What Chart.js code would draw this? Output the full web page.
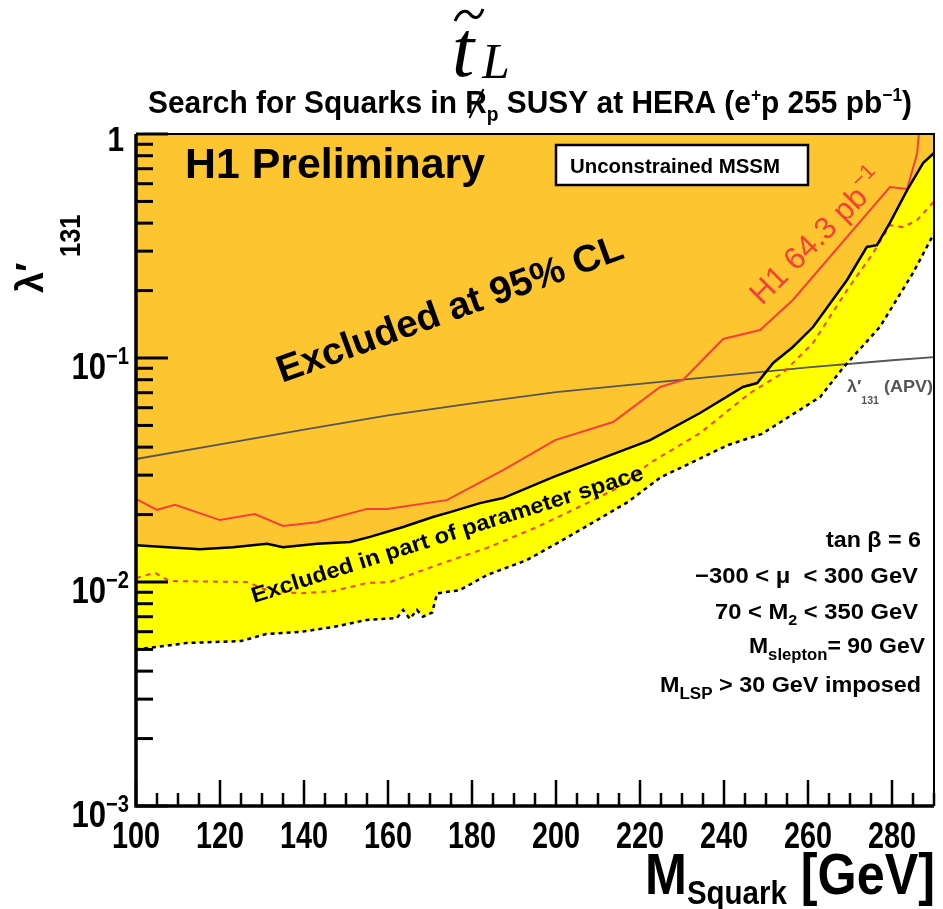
<!DOCTYPE html>
<html>
<head>
<meta charset="utf-8">
<script src="https://cdn.jsdelivr.net/npm/chart.js@4.4.0/dist/chart.umd.min.js"></script>
<style>
  html, body { margin: 0; padding: 0; background: #fff; }
  canvas { display: block; }
</style>
</head>
<body>
<canvas id="chart" width="943" height="909"></canvas>
<script>
// 95% CL limit (solid black), upper edge of the yellow band
const solidMass  = [100, 115.2, 123.1, 131.2, 135, 143.1, 151, 155.7, 163.6, 170.7, 174.8, 181.9, 187.4, 199.3, 211.2, 222.4, 234.3, 244.5, 247.9, 251.7, 256.4, 261.2, 269.3, 274, 276.4, 279.5, 283.6, 287.4, 290];
const solidLimit = [0.0146, 0.0140, 0.0143, 0.0148, 0.0143, 0.0148, 0.0151, 0.0159, 0.0176, 0.0195, 0.0205, 0.0225, 0.0237, 0.0294, 0.0358, 0.0430, 0.0568, 0.0742, 0.0773, 0.0950, 0.112, 0.1375, 0.223, 0.313, 0.319, 0.401, 0.562, 0.742, 0.823];

// lower edge of the "excluded in part of parameter space" band (dotted black)
const dottedMass  = [100, 112, 125, 131, 139, 147, 155, 162.1, 163.6, 165.2, 166.9, 168.3, 170.5, 171.7, 177.1, 183.6, 193.1, 201.2, 209, 217.1, 225, 233.1, 241, 249, 262.9, 268.3, 277.1, 285, 290];
const dottedLimit = [0.0050, 0.00534, 0.00545, 0.00586, 0.00598, 0.0063, 0.00677, 0.0069, 0.0075, 0.00685, 0.0075, 0.0070, 0.0073, 0.0089, 0.0092, 0.01075, 0.01254, 0.01525, 0.01853, 0.02276, 0.0294, 0.0347, 0.0409, 0.0458, 0.067, 0.0902, 0.1375, 0.2396, 0.36];

// earlier H1 result, 64.3 pb^-1 (solid red)
const h1Mass  = [100, 105, 109.3, 120, 128.3, 135, 143, 155, 159.8, 174, 187.4, 199.8, 213.6, 224.8, 230.2, 239.8, 248.6, 256.4, 279.5, 283.6, 286, 286.4];
const h1Limit = [0.0235, 0.0210, 0.0221, 0.0189, 0.0201, 0.0178, 0.0185, 0.0212, 0.0212, 0.0232, 0.0316, 0.0430, 0.0518, 0.0742, 0.0797, 0.1216, 0.1334, 0.1815, 0.580, 0.568, 0.823, 1.0];

// dashed red curve
const dashMass  = [100, 104.5, 107.9, 126.4, 131.2, 139, 146.9, 155, 160.5, 171.7, 183.6, 195.5, 207.4, 215.2, 222.4, 234.3, 246.2, 254, 261.2, 269.3, 275.5, 279.5, 282.6, 286, 290];
const dashLimit = [0.0104, 0.0110, 0.0101, 0.0100, 0.0092, 0.0089, 0.0091, 0.0099, 0.0100, 0.0119, 0.0142, 0.0176, 0.0225, 0.0266, 0.0340, 0.0462, 0.0698, 0.0857, 0.1167, 0.201, 0.294, 0.392, 0.384, 0.413, 0.50];

// atomic parity violation bound (grey)
const apvMass  = [100, 120, 140, 160, 180, 200, 220, 240, 260, 280, 290];
const apvLimit = [0.0354, 0.0412, 0.0479, 0.0554, 0.0627, 0.0704, 0.0766, 0.0835, 0.0909, 0.0977, 0.101];

// axes
const xTickValues = [100, 120, 140, 160, 180, 200, 220, 240, 260, 280];
const xTickLabels = ['100', '120', '140', '160', '180', '200', '220', '240', '260', '280'];
const yTickValues = [1, 0.1, 0.01, 0.001];
const yTickExponents = ['', '\u22121', '\u22122', '\u22123'];

const ORANGE = 'rgb(253,198,48)';
const YELLOW = 'rgb(255,255,0)';
const RED = 'rgb(248,62,56)';
const SANS = '"Liberation Sans", Arial, Helvetica, sans-serif';
const SERIF = '"Liberation Serif", "Times New Roman", serif';

function pts(xs, ys) {
    return xs.map((x, i) => ({ x: x, y: ys[i] }));
}

function bold(size) { return 'bold ' + size + 'px ' + SANS; }
function plain(size) { return size + 'px ' + SANS; }

function textWidth(ctx, segs) {
    let w = 0;
    for (const s of segs) {
        ctx.font = s.font;
        w += ctx.measureText(s.text).width;
    }
    return w;
}

// draws a run of text pieces (sub/superscripts via dy), optionally rotated and fitted to a width
function drawText(ctx, segs, x, y, opt) {
    opt = opt || {};
    const align = opt.align || 'left';
    ctx.save();
    ctx.translate(x, y);
    ctx.rotate((opt.angle || 0) * Math.PI / 180);
    const natural = textWidth(ctx, segs);
    const k = opt.width ? opt.width / natural : (opt.sx || 1);
    ctx.scale(k, 1);
    let cx = align === 'right' ? -natural : align === 'center' ? -natural / 2 : 0;
    ctx.textAlign = 'left';
    ctx.textBaseline = 'alphabetic';
    for (const s of segs) {
        ctx.font = s.font;
        ctx.fillStyle = s.color || opt.color || '#000';
        ctx.fillText(s.text, cx, s.dy || 0);
        const w = ctx.measureText(s.text).width;
        if (s.slash) {
            ctx.strokeStyle = ctx.fillStyle;
            ctx.lineWidth = 2;
            ctx.beginPath();
            ctx.moveTo(cx + w * 0.2, (s.dy || 0) + 5);
            ctx.lineTo(cx + w * 0.85, (s.dy || 0) - 24);
            ctx.stroke();
        }
        cx += w;
    }
    ctx.restore();
}

const decorations = {
    id: 'decorations',
    afterDatasetsDraw(chart) {
        const ctx = chart.ctx;
        const xs = chart.scales.x;
        const ys = chart.scales.y;
        const a = chart.chartArea;

        // white parameter box
        ctx.save();
        ctx.fillStyle = '#fff';
        ctx.fillRect(556, 145, 252, 40);
        ctx.strokeStyle = '#000';
        ctx.lineWidth = 2.5;
        ctx.strokeRect(556, 145, 252, 40);
        ctx.restore();
        drawText(ctx, [{ text: 'Unconstrained MSSM', font: bold(20) }], 570, 173, { width: 210 });

        // frame
        ctx.save();
        ctx.strokeStyle = '#000';
        ctx.lineWidth = 2;
        ctx.beginPath();
        ctx.moveTo(a.left, a.top); ctx.lineTo(a.right, a.top); ctx.lineTo(a.right, a.bottom);
        ctx.stroke();
        ctx.lineWidth = 3.5;
        ctx.beginPath();
        ctx.moveTo(a.left, a.top); ctx.lineTo(a.left, a.bottom); ctx.lineTo(a.right, a.bottom);
        ctx.stroke();

        // y ticks (inside)
        ctx.lineWidth = 3;
        for (let d = -3; d <= 0; d++) {
            const py = ys.getPixelForValue(Math.pow(10, d));
            ctx.beginPath(); ctx.moveTo(a.left, py); ctx.lineTo(a.left + 32, py); ctx.stroke();
            if (d === 0) continue;
            for (let m = 2; m <= 9; m++) {
                const my = ys.getPixelForValue(m * Math.pow(10, d));
                ctx.beginPath(); ctx.moveTo(a.left, my); ctx.lineTo(a.left + 17, my); ctx.stroke();
            }
        }
        // x ticks (inside)
        ctx.lineWidth = 2.5;
        for (let m = 100; m <= 290; m += 5) {
            const px = xs.getPixelForValue(m);
            const len = (m % 20 === 0) ? 26 : 13;
            ctx.beginPath(); ctx.moveTo(px, a.bottom); ctx.lineTo(px, a.bottom - len); ctx.stroke();
        }
        ctx.restore();

        // tick labels
        yTickValues.forEach((v, i) => {
            const py = ys.getPixelForValue(v);
            if (yTickExponents[i] === '') {
                drawText(ctx, [{ text: '1', font: bold(35) }], 124, py + 17, { align: 'right', sx: 0.85 });
            } else {
                drawText(ctx, [
                    { text: '10', font: bold(37) },
                    { text: yTickExponents[i], font: bold(24), dy: -15 }
                ], 129, py + 21, { align: 'right', sx: 0.84 });
            }
        });
        xTickValues.forEach((v, i) => {
            drawText(ctx, [{ text: xTickLabels[i], font: bold(36) }], xs.getPixelForValue(v), a.bottom + 42, { align: 'center', sx: 0.8 });
        });

        // axis titles
        drawText(ctx, [
            { text: 'M', font: bold(58) },
            { text: 'Squark', font: bold(34), dy: 10 },
            { text: ' [GeV]', font: bold(58) }
        ], 935, 894, { align: 'right', width: 290 });
        drawText(ctx, [{ text: '\u03bb\u2032', font: bold(38) }], 43, 293, { angle: -90 });
        drawText(ctx, [{ text: '131', font: bold(30) }], 80, 257, { angle: -90, sx: 0.85 });

        // title
        drawText(ctx, [{ text: 't', font: 'italic 80px ' + SERIF }], 452, 76);
        ctx.save();
        ctx.strokeStyle = '#000';
        ctx.lineWidth = 3;
        ctx.beginPath();
        ctx.moveTo(455, 21);
        ctx.bezierCurveTo(460, 9, 467, 10, 470, 14);
        ctx.bezierCurveTo(473, 18, 479, 21, 483, 9);
        ctx.stroke();
        ctx.restore();
        drawText(ctx, [{ text: 'L', font: 'italic 50px ' + SERIF }], 482, 78);

        drawText(ctx, [
            { text: 'Search for Squarks in ', font: bold(31) },
            { text: 'R', font: bold(31), slash: true },
            { text: 'p', font: bold(20), dy: 8 },
            { text: ' SUSY at HERA (e', font: bold(31) },
            { text: '+', font: bold(18), dy: -12 },
            { text: 'p 255 pb', font: bold(31) },
            { text: '\u22121', font: bold(18), dy: -12 },
            { text: ')', font: bold(31) }
        ], 148, 113, { width: 764 });

        // annotations inside the frame
        drawText(ctx, [{ text: 'H1 Preliminary', font: bold(42) }], 185, 178, { width: 300 });
        drawText(ctx, [{ text: 'Excluded at 95% CL', font: bold(38) }], 282, 383, { angle: -20, width: 366 });
        drawText(ctx, [
            { text: 'H1 64.3 pb', font: plain(31) },
            { text: '\u22121', font: plain(21), dy: -14 }
        ], 762, 306, { angle: -45, color: RED });
        drawText(ctx, [{ text: 'Excluded in part of parameter space', font: bold(22) }], 254, 603, { angle: -17.6, width: 410 });

        drawText(ctx, [
            { text: '\u03bb\u2032', font: bold(17) },
            { text: '131', font: bold(10), dy: 12 },
            { text: ' (APV)', font: bold(17) }
        ], 847, 392, { color: '#555', width: 86 });

        drawText(ctx, [{ text: 'tan \u03b2 = 6', font: bold(22) }], 921, 547, { align: 'right', width: 95 });
        drawText(ctx, [{ text: '\u2212300 < \u03bc  < 300 GeV', font: bold(22) }], 918, 583, { align: 'right', width: 223 });
        drawText(ctx, [
            { text: '70 < M', font: bold(22) },
            { text: '2', font: bold(15), dy: 6 },
            { text: ' < 350 GeV', font: bold(22) }
        ], 918, 619, { align: 'right', width: 203 });
        drawText(ctx, [
            { text: 'M', font: bold(22) },
            { text: 'slepton', font: bold(16), dy: 7 },
            { text: '= 90 GeV', font: bold(22) }
        ], 925, 653, { align: 'right', width: 176 });
        drawText(ctx, [
            { text: 'M', font: bold(22) },
            { text: 'LSP', font: bold(16), dy: 7 },
            { text: ' > 30 GeV imposed', font: bold(22) }
        ], 921, 692, { align: 'right', width: 261 });
    }
};

new Chart(document.getElementById('chart'), {
    type: 'line',
    data: {
        datasets: [
            {
                data: pts(solidMass, solidLimit),
                borderColor: '#000', borderWidth: 2.5,
                fill: 'end', backgroundColor: ORANGE, order: 1
            },
            {
                data: pts(dottedMass, dottedLimit),
                borderColor: '#000', borderWidth: 2.5, borderDash: [4, 4],
                fill: '-1', backgroundColor: YELLOW, order: 2
            },
            {
                data: pts(h1Mass, h1Limit),
                borderColor: RED, borderWidth: 2, fill: false, order: 3
            },
            {
                data: pts(dashMass, dashLimit),
                borderColor: RED, borderWidth: 2, borderDash: [5, 5], fill: false, order: 4
            },
            {
                data: pts(apvMass, apvLimit),
                borderColor: '#555', borderWidth: 1.8, fill: false, order: 5
            }
        ]
    },
    options: {
        responsive: false,
        animation: false,
        layout: { padding: { left: 136, right: 9, top: 134, bottom: 103 } },
        elements: { point: { radius: 0 }, line: { tension: 0 } },
        plugins: {
            legend: { display: false },
            tooltip: { enabled: false },
            filler: { drawTime: 'beforeDatasetsDraw' }
        },
        scales: {
            x: { type: 'linear', min: 100, max: 290, display: false },
            y: { type: 'logarithmic', min: 0.001, max: 1, display: false }
        }
    },
    plugins: [decorations]
});
</script>
</body>
</html>
